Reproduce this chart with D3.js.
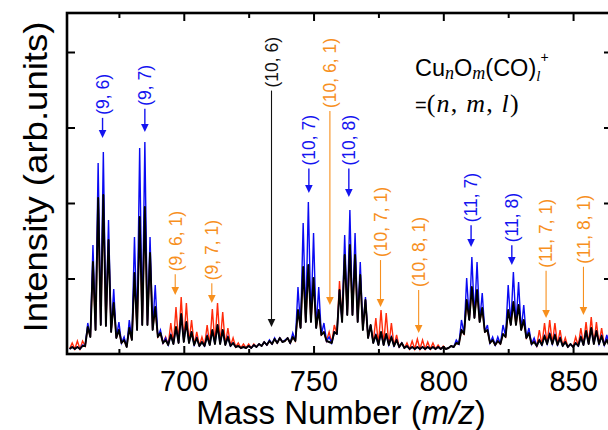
<!DOCTYPE html>
<html>
<head>
<meta charset="utf-8">
<script src="https://cdn.jsdelivr.net/npm/d3@7"></script>
<style>
  body { margin: 0; background: #fff; }
  svg { display: block; font-family: "Liberation Sans", Arial, sans-serif; }
</style>
</head>
<body>
<svg id="chart" width="608" height="430"></svg>
<script>
// spectrum sampled at every mass unit, starting at massStart
const massStart = 656;

// measured spectrum (black)
const blackTrace = [
  50, 70, 50, 70, 50, 80, 80, 270, 170, 920,
  240, 1560, 290, 1590, 280, 1140, 220, 510, 160, 240,
  110, 140, 70, 260, 140, 810, 240, 1370, 290, 1470,
  290, 1010, 240, 470, 170, 210, 110, 140, 90, 190,
  100, 270, 110, 400, 120, 320, 110, 220, 90, 160,
  80, 120, 80, 180, 90, 240, 100, 290, 100, 240,
  90, 170, 80, 110, 70, 80, 60, 70, 60, 80,
  60, 90, 70, 100, 80, 120, 90, 130, 100, 150,
  110, 160, 120, 130, 160, 110, 170, 130, 440, 260,
  870, 320, 890, 320, 760, 260, 440, 190, 220, 130,
  120, 110, 220, 200, 640, 320, 990, 390, 1090, 390,
  990, 320, 790, 240, 540, 160, 290, 110, 190, 90,
  220, 90, 200, 90, 170, 80, 140, 70, 110, 60,
  80, 50, 70, 50, 70, 50, 70, 50, 70, 50,
  70, 50, 70, 50, 70, 50, 60, 80, 70, 110,
  100, 240, 200, 540, 340, 670, 360, 640, 320, 460,
  220, 240, 110, 140, 90, 130, 100, 200, 170, 440,
  290, 520, 290, 490, 240, 340, 160, 210, 100, 120,
  80, 140, 90, 180, 100, 200, 100, 190, 90, 160,
  80, 120, 70, 100, 70, 110, 80, 170, 90, 230,
  100, 260, 100, 230, 100, 180, 90, 140, 80
];

// CunOm+ pattern (blue); where it sits under the black trace it is read as equal to it
const blueTrace = [
  50, 70, 50, 70, 50, 90, 80, 310, 170, 1090,
  240, 1910, 290, 2020, 280, 1340, 220, 650, 160, 320,
  110, 170, 70, 340, 140, 1170, 240, 2060, 290, 2120,
  290, 1170, 240, 690, 170, 240, 110, 160, 90, 190,
  100, 270, 110, 400, 120, 320, 110, 220, 90, 160,
  80, 120, 80, 180, 90, 240, 100, 290, 100, 240,
  90, 170, 80, 110, 70, 80, 60, 70, 60, 80,
  60, 90, 70, 100, 80, 120, 90, 140, 100, 160,
  110, 160, 120, 140, 160, 110, 210, 130, 670, 260,
  1310, 320, 1520, 320, 1210, 260, 670, 190, 310, 130,
  170, 110, 220, 200, 640, 320, 1190, 390, 1440, 390,
  1210, 320, 920, 240, 570, 160, 290, 110, 190, 90,
  220, 90, 200, 90, 170, 80, 140, 70, 110, 60,
  80, 50, 70, 50, 70, 50, 70, 50, 70, 50,
  70, 50, 70, 50, 70, 50, 60, 80, 70, 140,
  100, 340, 200, 760, 340, 970, 360, 920, 320, 610,
  220, 290, 110, 170, 90, 170, 100, 290, 180, 690,
  290, 820, 290, 720, 240, 490, 160, 260, 100, 160,
  80, 140, 90, 180, 100, 200, 100, 190, 90, 160,
  80, 120, 70, 100, 70, 110, 80, 170, 90, 230,
  100, 260, 100, 230, 100, 180, 90, 190, 80
];

// CunOm(CO)+ pattern (red); same convention as the blue one
const redTrace = [
  50, 110, 50, 130, 50, 130, 80, 270, 170, 920,
  240, 1560, 290, 1590, 280, 1140, 220, 510, 160, 240,
  110, 140, 70, 260, 140, 810, 240, 1370, 290, 1470,
  290, 1010, 240, 470, 170, 210, 110, 170, 90, 310,
  100, 470, 110, 570, 120, 510, 110, 340, 90, 220,
  80, 170, 80, 290, 90, 450, 100, 510, 100, 420,
  90, 260, 80, 160, 70, 110, 60, 100, 60, 100,
  60, 100, 70, 100, 80, 120, 90, 130, 100, 150,
  110, 160, 120, 130, 160, 110, 170, 130, 440, 260,
  870, 320, 890, 320, 760, 260, 440, 190, 220, 130,
  220, 110, 290, 200, 730, 320, 990, 390, 1090, 390,
  990, 320, 790, 240, 540, 160, 290, 110, 360, 90,
  440, 90, 410, 90, 310, 80, 190, 70, 110, 60,
  110, 50, 130, 50, 150, 50, 140, 50, 120, 50,
  110, 50, 90, 50, 80, 50, 60, 80, 70, 110,
  100, 240, 200, 540, 340, 670, 360, 640, 320, 460,
  220, 240, 110, 140, 90, 130, 100, 200, 170, 440,
  290, 520, 290, 490, 240, 340, 160, 210, 100, 140,
  80, 240, 90, 310, 100, 340, 100, 310, 90, 240,
  80, 160, 70, 100, 70, 170, 80, 260, 90, 320,
  100, 370, 100, 320, 100, 260, 90, 170, 80
];

const majorTicks = [700, 750, 800, 850];
const minorTicks = [675, 725, 775, 825];
const yTicks = [755, 1510, 2265, 3020];

// peak assignments (n, m) / (n, m, l)
const peakLabels = ["(9, 6)", "(9, 7)", "(9, 6, 1)", "(9, 7, 1)", "(10, 6)", "(10, 7)", "(10, 6, 1)",
  "(10, 8)", "(10, 7, 1)", "(10, 8, 1)", "(11, 7)", "(11, 8)", "(11, 7, 1)", "(11, 8, 1)"];
const peakMass = [668.7, 685, 696.7, 710.8, 733.8, 748.2, 756.3, 763.6, 775.8, 790.5, 810.7, 826.4, 839.6, 854];
const peakTip = [2160, 2220, 590, 510, 270, 1610, 490, 1570, 470, 210, 1070, 890, 360, 390];
const labelTop = [2800, 2890, 1430, 1340, 3170, 2390, 3160, 2390, 1670, 1370, 1810, 1610, 1550, 1590];
const peakFamily = ["oxide", "oxide", "carbonyl", "carbonyl", "weak", "oxide", "carbonyl",
  "oxide", "carbonyl", "carbonyl", "oxide", "oxide", "carbonyl", "carbonyl"];

const familyColor = { oxide: "#1414f0", carbonyl: "#f7901e", weak: "#111" };

const margin = { top: 13, left: 67 };
const plotW = 545, plotH = 341;

const svg = d3.select("#chart");

const x = d3.scaleLinear().domain([655, 865]).range([margin.left, margin.left + plotW]);
const y = d3.scaleLinear().domain([0, 3410]).range([margin.top + plotH, margin.top]);

svg.append("defs").append("clipPath").attr("id", "plotClip")
  .append("rect")
  .attr("x", margin.left).attr("y", margin.top)
  .attr("width", plotW).attr("height", plotH);

const line = d3.line()
  .x((d, i) => x(massStart + i))
  .y(d => y(d));

// red first, blue over it, measured black on top
const traces = svg.append("g").attr("clip-path", "url(#plotClip)");
traces.append("path").datum(redTrace)
  .attr("d", line).attr("fill", "none")
  .attr("stroke", "#ff2a0a").attr("stroke-width", 1.4);
traces.append("path").datum(blueTrace)
  .attr("d", line).attr("fill", "none")
  .attr("stroke", "#0a0af2").attr("stroke-width", 1.4);
traces.append("path").datum(blackTrace)
  .attr("d", line).attr("fill", "none")
  .attr("stroke", "#000").attr("stroke-width", 1.9)
  .attr("stroke-linejoin", "round");

// axes: ticks on all four sides, pointing in
const y0 = margin.top + plotH;
const xRight = margin.left + plotW;

function styleAxis(g) {
  g.select(".domain").remove();
  g.selectAll(".tick line").attr("stroke", "#000").attr("stroke-width", 2);
}

svg.append("g").attr("transform", `translate(0,${y0})`)
  .call(d3.axisBottom(x).tickValues(majorTicks).tickSizeInner(-8).tickSizeOuter(0).tickPadding(16))
  .call(styleAxis)
  .call(g => g.selectAll(".tick text")
    .attr("font-size", 29).attr("font-family", "Liberation Sans, Arial, sans-serif")
    .attr("fill", "#000"));
svg.append("g").attr("transform", `translate(0,${y0})`)
  .call(d3.axisBottom(x).tickValues(minorTicks).tickSizeInner(-5).tickSizeOuter(0).tickFormat(""))
  .call(styleAxis);
svg.append("g").attr("transform", `translate(0,${margin.top})`)
  .call(d3.axisTop(x).tickValues(majorTicks).tickSizeInner(-8).tickSizeOuter(0).tickFormat(""))
  .call(styleAxis);
svg.append("g").attr("transform", `translate(0,${margin.top})`)
  .call(d3.axisTop(x).tickValues(minorTicks).tickSizeInner(-5).tickSizeOuter(0).tickFormat(""))
  .call(styleAxis);
svg.append("g").attr("transform", `translate(${margin.left},0)`)
  .call(d3.axisLeft(y).tickValues(yTicks).tickSizeInner(-8).tickSizeOuter(0).tickFormat(""))
  .call(styleAxis);
svg.append("g").attr("transform", `translate(${xRight},0)`)
  .call(d3.axisRight(y).tickValues(yTicks).tickSizeInner(-8).tickSizeOuter(0).tickFormat(""))
  .call(styleAxis);

// frame
svg.append("rect")
  .attr("x", margin.left).attr("y", margin.top)
  .attr("width", plotW).attr("height", plotH)
  .attr("fill", "none").attr("stroke", "#000").attr("stroke-width", 2.6);

// axis titles
svg.append("text")
  .attr("transform", "translate(47,177) rotate(-90)")
  .attr("text-anchor", "middle")
  .attr("font-size", 34)
  .attr("textLength", 311).attr("lengthAdjust", "spacingAndGlyphs")
  .text("Intensity (arb.units)");

const xTitle = svg.append("text")
  .attr("x", 341).attr("y", 424)
  .attr("text-anchor", "middle")
  .attr("font-size", 33);
xTitle.append("tspan").text("Mass Number (");
xTitle.append("tspan").attr("font-style", "italic").text("m/z");
xTitle.append("tspan").text(")");

// peak annotations: rotated label + arrow down to the peak
const annots = svg.append("g");
peakLabels.forEach((lab, i) => {
  const col = familyColor[peakFamily[i]];
  const px = x(peakMass[i]);
  const top = y(labelTop[i]);
  const tip = y(peakTip[i]);
  const t = annots.append("text")
    .attr("transform", `translate(${px},${top}) rotate(-90)`)
    .attr("text-anchor", "end")
    .attr("dy", "0.36em")
    .attr("font-size", 17.5)
    .attr("fill", col)
    .text(lab);
  const len = t.node().getComputedTextLength();
  const start = top + len + 3;
  const headH = 8;
  annots.append("line")
    .attr("x1", px).attr("x2", px)
    .attr("y1", start).attr("y2", tip - headH + 1)
    .attr("stroke", col)
    .attr("stroke-width", peakFamily[i] === "oxide" ? 1.4 : 1.1);
  annots.append("path")
    .attr("d", `M${px - 3.8},${tip - headH}L${px + 3.8},${tip - headH}L${px},${tip}Z`)
    .attr("fill", col);
});

// formula key
const serif = "Liberation Serif, Times New Roman, serif";
const key1 = svg.append("text").attr("x", 415).attr("y", 76).attr("font-size", 23.5);
key1.append("tspan").text("Cu");
key1.append("tspan").attr("font-family", serif).attr("font-style", "italic")
  .attr("font-size", 18).attr("dy", 3).text("n");
key1.append("tspan").attr("dy", -3).text("O");
key1.append("tspan").attr("font-family", serif).attr("font-style", "italic")
  .attr("font-size", 18).attr("dy", 3).text("m");
key1.append("tspan").attr("dy", -3).text("(CO)");
key1.append("tspan").attr("font-family", serif).attr("font-style", "italic")
  .attr("font-size", 15).attr("dy", 5).text("l");
key1.append("tspan").attr("font-size", 14).attr("dy", -19).text("+");

const key2 = svg.append("text").attr("x", 415).attr("y", 112).attr("font-size", 26)
  .attr("font-family", serif).attr("letter-spacing", 1.2);
key2.append("tspan").attr("font-family", "Liberation Sans, Arial, sans-serif").attr("font-size", 20)
  .attr("letter-spacing", 0).text("=");
key2.append("tspan").text("(");
key2.append("tspan").attr("font-style", "italic").text("n");
key2.append("tspan").text(", ");
key2.append("tspan").attr("font-style", "italic").text("m");
key2.append("tspan").text(", ");
key2.append("tspan").attr("font-style", "italic").text("l");
key2.append("tspan").text(")");
</script>
</body>
</html>
